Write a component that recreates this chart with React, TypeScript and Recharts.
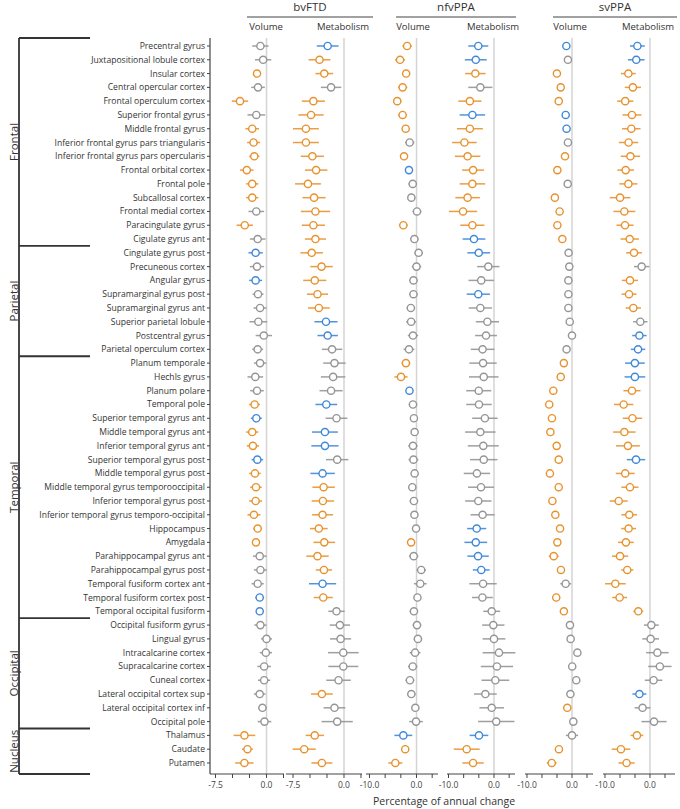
import { ScatterChart, Scatter, XAxis, YAxis, ErrorBar, ReferenceLine } from 'recharts';

const regions = [
  'Precentral gyrus', 'Juxtapositional lobule cortex', 'Insular cortex', 'Central opercular cortex',
  'Frontal operculum cortex', 'Superior frontal gyrus', 'Middle frontal gyrus',
  'Inferior frontal gyrus pars triangularis', 'Inferior frontal gyrus pars opercularis',
  'Frontal orbital cortex', 'Frontal pole', 'Subcallosal cortex', 'Frontal medial cortex',
  'Paracingulate gyrus', 'Cigulate gyrus ant', 'Cingulate gyrus post',
  'Precuneous cortex', 'Angular gyrus', 'Supramarginal gyrus post', 'Supramarginal gyrus ant',
  'Superior parietal lobule', 'Postcentral gyrus', 'Parietal operculum cortex',
  'Planum temporale', 'Hechls gyrus', 'Planum polare', 'Temporal pole', 'Superior temporal gyrus ant',
  'Middle temporal gyrus ant', 'Inferior temporal gyrus ant', 'Superior temporal gyrus post',
  'Middle temporal gyrus post', 'Middle temporal gyrus temporooccipital', 'Inferior temporal gyrus post',
  'Inferior temporal gyrus temporo-occipital', 'Hippocampus', 'Amygdala', 'Parahippocampal gyrus ant',
  'Parahippocampal gyrus post', 'Temporal fusiform cortex ant', 'Temporal fusiform cortex post',
  'Temporal occipital fusiform',
  'Occipital fusiform gyrus', 'Lingual gyrus', 'Intracalcarine cortex', 'Supracalcarine cortex',
  'Cuneal cortex', 'Lateral occipital cortex sup', 'Lateral occipital cortex inf', 'Occipital pole',
  'Thalamus', 'Caudate', 'Putamen',
];

const groupNames = ['Frontal', 'Parietal', 'Temporal', 'Occipital', 'Nucleus'];
const groupFirstRow = [0, 15, 23, 42, 50];

// g = not significant (grey), o = orange, b = blue
const bvVolume = [
  -0.9, -0.5, -1.4, -1.25, -3.9, -1.5, -2.1, -1.9, -1.8, -2.9, -2.1, -2.1, -1.5, -3.2, -1.3, -1.6,
  -1.4, -1.6, -1.25, -0.95, -1.2, -0.4, -1.3, -0.95, -1.65, -1.4, -1.75, -1.5, -2.1, -2.0, -1.35,
  -1.7, -1.55, -1.6, -1.85, -1.3, -1.55, -1.0, -0.9, -1.3, -1.0, -1.0,
  -0.9, 0.0, -0.1, -0.35, -0.35, -1.0, -0.6, -0.3, -3.25, -2.8, -3.25,
];
const bvVolumeErr = [
  1.2, 1.2, 0.5, 1.0, 1.2, 1.3, 1.0, 0.95, 0.75, 1.0, 0.9, 0.9, 1.15, 1.2, 1.15, 1.05,
  1.05, 0.95, 0.8, 0.95, 1.3, 1.2, 0.8, 0.9, 1.15, 1.0, 0.8, 0.8, 0.9, 0.9, 0.85,
  0.85, 0.85, 0.95, 0.95, 0.65, 0.5, 1.0, 0.95, 0.9, 0.65, 0.5,
  0.9, 0.8, 0.9, 1.0, 0.9, 0.85, 0.6, 1.0, 1.6, 0.8, 1.35,
];
const bvVolumeSig = 'ggogogoooooogogb' + 'gbggggggggoboob' + 'oooooogggbbggggggggooo';

const bvMetab = [
  -2.4, -3.6, -2.9, -1.9, -4.5, -4.85, -5.6, -5.6, -4.65, -4.1, -5.3, -4.4, -4.2, -4.5, -4.2, -4.75,
  -3.3, -4.3, -3.9, -3.7, -2.65, -2.4, -1.75, -1.4, -1.6, -1.9, -2.6, -1.1, -2.8, -2.8, -1.0,
  -3.15, -3.0, -3.1, -3.15, -3.7, -2.9, -3.9, -2.95, -3.15, -3.05, -1.1,
  -0.6, -0.5, -0.1, -0.1, -0.8, -3.25, -1.4, -1.0, -4.3, -5.85, -3.25,
];
const bvMetabErr = [
  1.6, 1.6, 1.3, 1.5, 1.7, 1.85, 1.9, 1.9, 1.7, 1.65, 1.9, 1.7, 2.15, 1.7, 1.55, 1.65,
  1.65, 1.7, 1.55, 1.6, 1.7, 1.5, 1.5, 1.65, 1.8, 1.7, 1.6, 1.6, 1.9, 2.0, 1.65,
  1.8, 1.65, 1.65, 1.55, 1.3, 1.6, 1.65, 1.2, 2.0, 1.4, 1.2,
  1.5, 1.55, 2.25, 2.2, 1.8, 1.6, 1.6, 2.3, 1.35, 1.7, 1.55,
];
const bvMetabSig = 'boog' + 'oooooooooooooooo' + 'bbggggbgbbgb' + 'ooooooo' + 'bo' + 'gggggg' + 'oggooo';

const nfVolume = [
  -2.0, -3.5, -2.2, -2.95, -4.1, -2.95, -2.3, -1.45, -2.65, -1.6, -0.8, -1.1, 0.1, -2.8, -0.45, 0.45,
  0.0, -0.65, -0.65, -1.2, -1.15, -0.75, -1.6, -2.25, -3.3, -1.5, -0.75, -0.55, -0.4, -0.75, -0.65,
  -0.4, -0.9, -0.55, -0.45, -0.1, -1.15, -0.6, 1.0, 0.8, 0.2, -0.55,
  0.1, 0.3, -0.3, -0.8, -1.4, -1.1, -0.25, -0.1, -2.8, -2.4, -4.5,
];
const nfVolumeErr = [
  1.0, 1.05, 0.5, 1.0, 0.9, 0.95, 0.6, 1.0, 0.5, 0.6, 0.9, 0.85, 0.95, 0.95, 0.9, 0.9,
  1.0, 0.9, 0.9, 0.9, 1.05, 1.1, 1.15, 0.9, 1.4, 0.6, 0.9, 0.7, 0.7, 1.0, 1.05,
  0.7, 0.75, 0.9, 0.7, 0.5, 0.5, 1.0, 1.0, 1.35, 0.6, 0.9,
  0.9, 0.9, 1.15, 1.0, 0.95, 0.9, 0.8, 1.45, 1.9, 0.6, 1.5,
];
const nfVolumeSig = 'ooooooo' + 'gob' + 'ggg' + 'o' + 'ggggggggg' + 'oob' + 'gggggggggg' + 'o' + 'ggggggggggggg' + 'boo';

const nfMetab = [
  -3.45, -4.0, -4.1, -3.0, -5.3, -4.75, -5.3, -6.5, -5.8, -4.6, -4.75, -5.8, -6.8, -4.75, -4.4, -3.35,
  -1.25, -2.8, -3.45, -3.0, -1.45, -1.75, -2.5, -2.4, -2.25, -3.35, -3.3, -2.0, -3.0, -2.35, -2.25,
  -3.75, -2.85, -3.45, -2.5, -3.8, -4.0, -3.5, -2.8, -2.4, -2.55, -0.5,
  -0.15, 0.0, 1.1, 0.65, 0.3, -1.9, -0.5, 0.5, -3.3, -6.0, -4.6,
];
const nfMetabErr = [
  2.2, 2.4, 2.25, 2.65, 2.55, 2.8, 2.85, 2.7, 2.8, 2.4, 2.8, 2.7, 3.1, 2.65, 2.5, 2.5,
  2.45, 2.8, 2.55, 2.55, 2.55, 2.4, 2.6, 3.0, 3.25, 2.75, 2.8, 2.8, 3.35, 3.4, 3.0,
  2.9, 2.85, 2.9, 2.65, 2.1, 2.5, 2.35, 1.85, 3.0, 2.3, 1.85,
  2.45, 2.5, 3.6, 3.55, 3.05, 2.5, 2.7, 4.0, 2.05, 2.85, 2.35,
];
const nfMetabSig = 'bbogob' + 'oooooooo' + 'bbggb' + 'gggggggggggggggg' + 'bbbb' + 'ggggggggggg' + 'boo';

const svVolume = [
  -1.25, -0.9, -3.35, -2.5, -2.95, -1.4, -1.2, -0.9, -1.55, -3.25, -0.95, -3.8, -2.75, -3.25, -2.15, -0.75,
  -0.6, -0.8, -0.8, -0.8, -0.5, 0.0, -1.2, -1.8, -2.5, -4.15, -5.05, -4.45, -4.8, -3.4, -2.95,
  -4.9, -2.95, -4.35, -3.7, -2.65, -3.25, -4.05, -2.45, -1.4, -3.5, -1.8,
  -0.45, -0.3, 1.2, 0.05, 0.95, -0.35, -1.05, 0.3, 0.0, -2.9, -4.5,
];
const svVolumeErr = [
  0.5, 0.5, 0.4, 0.5, 0.6, 0.5, 0.5, 0.5, 0.5, 0.4, 0.4, 0.4, 0.6, 0.6, 0.5, 0.5,
  0.5, 0.5, 0.5, 0.5, 0.5, 0.5, 0.7, 0.5, 0.85, 0.4, 0.4, 0.4, 0.4, 0.75, 0.4,
  0.4, 0.4, 0.45, 0.45, 0.45, 0.45, 1.1, 0.85, 1.2, 0.45, 0.45,
  0.45, 0.45, 0.6, 0.6, 0.55, 0.45, 0.45, 0.8, 1.35, 0.45, 1.1,
];
const svVolumeSig = 'bgooobbgoog' + 'oooo' + 'gggggggg' + 'oooooooooooooooo' + 'goo' + 'gggggg' + 'oggoo';

const svMetab = [
  -2.8, -3.05, -4.8, -3.8, -5.5, -4.0, -4.15, -4.75, -4.35, -5.4, -4.8, -6.65, -5.7, -5.55, -4.5, -3.55,
  -1.85, -4.45, -4.65, -3.7, -2.15, -2.35, -2.65, -3.35, -3.35, -4.0, -5.85, -3.9, -5.7, -4.9, -3.1,
  -5.5, -4.45, -6.95, -4.6, -4.75, -5.35, -6.65, -5.05, -7.7, -6.75, -2.6,
  0.3, 0.15, 1.65, 2.2, 0.8, -2.35, -1.65, 0.9, -2.9, -6.45, -5.2,
];
const svMetabErr = [
  1.65, 1.85, 1.65, 1.8, 1.8, 2.1, 2.05, 2.15, 2.15, 1.85, 2.0, 2.3, 2.45, 1.9, 2.05, 1.75,
  1.7, 1.8, 1.65, 1.7, 1.6, 1.6, 1.6, 2.2, 2.3, 1.9, 2.15, 2.15, 2.5, 2.65, 2.05,
  2.1, 1.9, 2.0, 1.75, 1.65, 1.75, 1.8, 1.35, 2.3, 1.65, 1.1,
  1.65, 1.85, 2.5, 2.6, 1.95, 1.55, 1.75, 2.8, 1.4, 2.05, 1.8,
];
const svMetabSig = 'bb' + 'oooooooooooooo' + 'g' + 'ooo' + 'g' + 'bbbb' + 'ooooo' + 'b' + 'ooooooooooo' + 'ggggg' + 'bgg' + 'ooo';

const COLORS: Record<string, string> = { g: '#959595', o: '#E8922E', b: '#3F88D8' };
const FONT = '"Open Sans", "Noto Sans", sans-serif';
const INK = '#333';
const H = 809;
const TOP = 38;
const PAD_L = 16;
const PAD_R = 8;
const Y_DOMAIN: [number, number] = [-0.58, 52.8];
const rowTicks = regions.map((_, i) => i);

const ticks75 = [-7.5, -5, -2.5, 0, 2.5];
const ticks10 = [-10, -20 / 3, -10 / 3, 0, 10 / 3];

const panels = [
  { key: 'bvv', values: bvVolume, err: bvVolumeErr, sig: bvVolumeSig, left: 210, right: 284, domain: [-8.31, 2.57], ticks: ticks75, shown: [-7.5, 0] },
  { key: 'bvm', values: bvMetab, err: bvMetabErr, sig: bvMetabSig, left: 286, right: 362, domain: [-8.53, 2.65], ticks: ticks75, shown: [-7.5, 0] },
  { key: 'nfv', values: nfVolume, err: nfVolumeErr, sig: nfVolumeSig, left: 366, right: 438, domain: [-10.74, 4.57], ticks: ticks10, shown: [-10, 0] },
  { key: 'nfm', values: nfMetab, err: nfMetabErr, sig: nfMetabSig, left: 447, right: 515, domain: [-10.33, 4.62], ticks: ticks10, shown: [-10, 0] },
  { key: 'svv', values: svVolume, err: svVolumeErr, sig: svVolumeSig, left: 525, right: 593, domain: [-10.44, 4.67], ticks: ticks10, shown: [-10, 0] },
  { key: 'svm', values: svMetab, err: svMetabErr, sig: svMetabSig, left: 603, right: 675, domain: [-10.44, 5.56], ticks: ticks10, shown: [-10, 0] },
];

function Dot(props: any) {
  const { cx, cy, color } = props;
  if (cx == null || cy == null) return null;
  return <circle cx={cx} cy={cy} r={3.6} fill="#fff" stroke={color} strokeWidth={1.4} />;
}

function RowTick(props: any) {
  const { x, y, payload } = props;
  return (
    <text x={x} y={y} textAnchor="end" dominantBaseline="central" fontSize={8.6} fill={INK} fontFamily={FONT}>
      {regions[payload.value]}
    </text>
  );
}

function Panel({ p, first }: { p: (typeof panels)[number]; first: boolean }) {
  const rows = p.values.map((x, i) => ({ x, idx: i, err: p.err[i], sig: p.sig[i] }));
  const chartLeft = first ? 0 : p.left - PAD_L;
  return (
    <div style={{ position: 'absolute', left: chartLeft, top: 0 }}>
      <ScatterChart
        width={p.right - chartLeft + PAD_R}
        height={H}
        margin={{ top: TOP, right: PAD_R, bottom: 5, left: first ? 0 : PAD_L }}
      >
        <XAxis
          type="number"
          dataKey="x"
          domain={p.domain}
          allowDataOverflow
          ticks={p.ticks}
          interval={0}
          height={30}
          tickSize={4}
          axisLine={{ stroke: '#444', strokeWidth: 1.2 }}
          tickLine={{ stroke: '#444' }}
          tick={{ fontSize: 8.5, fill: '#444', fontFamily: FONT, dy: 2 }}
          tickFormatter={(v: number) => (p.shown.some(s => Math.abs(s - v) < 1e-6) ? v.toFixed(1) : '')}
        />
        <YAxis
          type="number"
          dataKey="idx"
          domain={Y_DOMAIN}
          reversed
          allowDataOverflow
          hide={!first}
          width={first ? p.left : 0}
          ticks={rowTicks}
          interval={0}
          tickSize={3}
          axisLine={{ stroke: '#444', strokeWidth: 1.2 }}
          tickLine={{ stroke: '#444' }}
          tick={<RowTick />}
        />
        <ReferenceLine x={0} stroke="#d4d4d4" strokeWidth={1.5} />
        {['g', 'o', 'b'].map(s => (
          <Scatter
            key={s}
            data={rows.filter(r => r.sig === s)}
            isAnimationActive={false}
            shape={(props: any) => <Dot {...props} color={COLORS[s]} />}
          >
            <ErrorBar dataKey="err" direction="x" width={0} stroke={COLORS[s]} strokeWidth={1.5} strokeOpacity={0.9} />
          </Scatter>
        ))}
      </ScatterChart>
    </div>
  );
}

function GroupLabel(props: any) {
  const { cx, cy, payload } = props;
  if (cx == null || cy == null) return null;
  return (
    <text x={cx} y={cy} transform={`rotate(-90 ${cx} ${cy})`} textAnchor="middle" dominantBaseline="central"
      fontSize={11.5} fill={INK} fontFamily={FONT}>
      {payload.name}
    </text>
  );
}

function Brackets() {
  const bounds = [Y_DOMAIN[0], ...groupFirstRow.slice(1).map(r => r - 0.5), Y_DOMAIN[1]];
  const labels = groupNames.map((name, i) => ({ name, x: 14, idx: (bounds[i] + bounds[i + 1]) / 2 }));
  return (
    <div style={{ position: 'absolute', left: 0, top: 0 }}>
      <ScatterChart width={100} height={H} margin={{ top: TOP, right: 0, bottom: 35, left: 0 }}>
        <XAxis type="number" dataKey="x" domain={[0, 100]} hide />
        <YAxis type="number" dataKey="idx" domain={Y_DOMAIN} reversed hide />
        <ReferenceLine segment={[{ x: 19, y: bounds[0] }, { x: 19, y: bounds[bounds.length - 1] }]} stroke={INK} strokeWidth={1.8} />
        {bounds.map((b, i) => (
          <ReferenceLine key={i} segment={[{ x: 19, y: b }, { x: 90, y: b }]} stroke={INK} strokeWidth={1.8} />
        ))}
        <Scatter data={labels} isAnimationActive={false} shape={(props: any) => <GroupLabel {...props} />} />
      </ScatterChart>
    </div>
  );
}

const headers = [
  { title: 'bvFTD', from: 247, to: 373, sub: [266, 343] },
  { title: 'nfvPPA', from: 396, to: 516, sub: [413, 493] },
  { title: 'svPPA', from: 553, to: 677, sub: [570, 648] },
];

export default function App() {
  return (
    <div style={{ position: 'absolute', left: 0, top: 0, width: 680, height: H, background: '#fff', fontFamily: FONT }}>
      <Brackets />
      {panels.map((p, i) => <Panel key={p.key} p={p} first={i === 0} />)}
      <svg width={680} height={H} style={{ position: 'absolute', left: 0, top: 0, pointerEvents: 'none' }}>
        {headers.map(h => (
          <g key={h.title} fontFamily={FONT} fill={INK}>
            <text x={(h.from + h.to) / 2} y={11} textAnchor="middle" fontSize={11.5}>{h.title}</text>
            <line x1={h.from} x2={h.to} y1={17} y2={17} stroke="#444" strokeWidth={1.2} />
            <text x={h.sub[0]} y={30} textAnchor="middle" fontSize={9.5}>Volume</text>
            <text x={h.sub[1]} y={30} textAnchor="middle" fontSize={9.5}>Metabolism</text>
          </g>
        ))}
        <text x={444} y={805} textAnchor="middle" fontSize={10.5} fill={INK} fontFamily={FONT}>
          Percentage of annual change
        </text>
      </svg>
    </div>
  );
}
